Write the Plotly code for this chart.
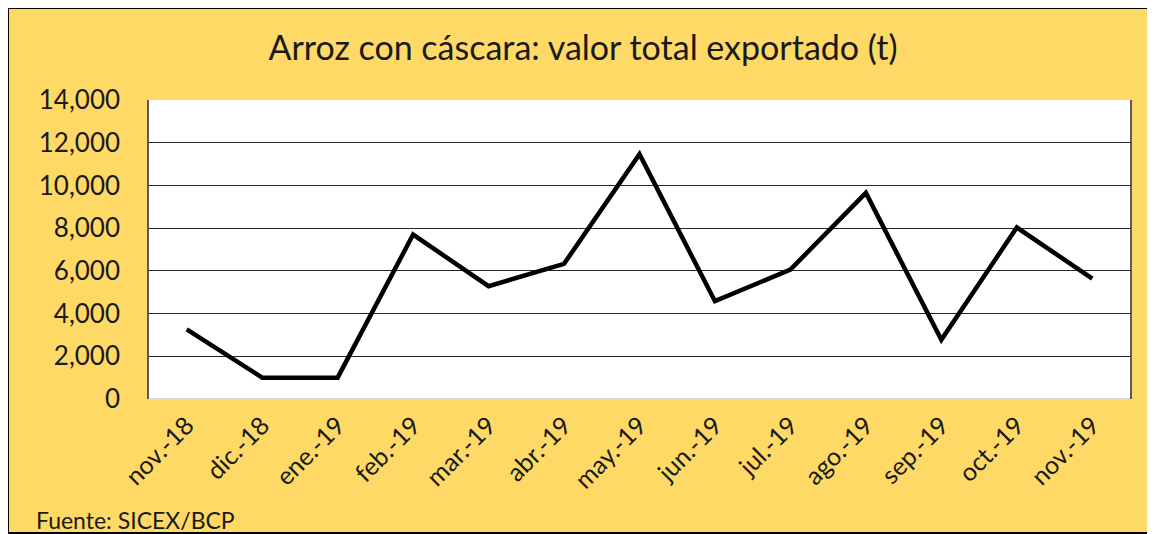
import plotly.graph_objects as go

months = ["nov.-18", "dic.-18", "ene.-19", "feb.-19", "mar.-19", "abr.-19", "may.-19",
          "jun.-19", "jul.-19", "ago.-19", "sep.-19", "oct.-19", "nov.-19"]
values = [3260, 1000, 1000, 7700, 5280, 6330, 11460, 4580, 6060, 9650, 2770, 8030, 5640]
y_ticks = [0, 2000, 4000, 6000, 8000, 10000, 12000, 14000]

title_text = "Arroz con cáscara: valor total exportado (t)"
source_text = "Fuente: SICEX/BCP"

FONT = "Lato"
YELLOW = "#FFD966"

fig = go.Figure()
fig.add_trace(go.Scatter(
    x=months, y=values, mode="lines",
    line=dict(color="#000000", width=4.5),
    hoverinfo="x+y", showlegend=False,
))

# figure is placed at an 8px page offset; coordinates below are in figure pixels
W, H = 1150, 526
L, R, T, B = 141, 1122, 92, 391
pw, ph = R - L, B - T

def px(xp):
    return (xp - L) / pw

def py(yp):
    return (B - yp) / ph

# outer black frame
fig.add_shape(type="rect", xref="paper", yref="paper",
              x0=px(0), x1=px(W + 20), y0=py(H - 1), y1=py(0),
              line=dict(color="#000000", width=2), layer="above")
# light bottom axis line
fig.add_shape(type="line", xref="paper", yref="paper", x0=0, x1=1, y0=0, y1=0,
              line=dict(color="#D9D9D9", width=2), layer="above")

fig.update_layout(
    width=W, height=H,
    margin=dict(l=L, r=W - R, t=T, b=H - B, autoexpand=False),
    paper_bgcolor=YELLOW,
    plot_bgcolor="#FFFFFF",
    font=dict(family=FONT, color="#000000"),
    title=dict(text=title_text, x=575 / W, xanchor="center", xref="container",
               y=1 - 40 / H, yanchor="middle", yref="container",
               font=dict(family=FONT, size=34, color="#1a1a1a")),
    annotations=[dict(text=source_text, xref="paper", yref="paper",
                      x=px(26), y=py(512), xanchor="left", yanchor="middle",
                      showarrow=False, font=dict(family=FONT, size=23, color="#1a1a1a"))],
)
fig.update_xaxes(
    type="category", tickangle=-45, tickfont=dict(family=FONT, size=25, color="#1a1a1a"),
    showgrid=False, showline=False, ticklabelstandoff=6,
    ticks="", range=[-0.5, len(months) - 0.5], fixedrange=True,
)
fig.update_yaxes(
    range=[0, 14000], tickvals=y_ticks, tickformat=",",
    tickfont=dict(family=FONT, size=26, color="#1a1a1a"),
    showgrid=True, gridcolor="#262626", gridwidth=1.3,
    showline=True, linecolor="#595959", linewidth=1.5, mirror=True,
    ticks="", ticklabelstandoff=22, zeroline=False, fixedrange=True,
)

fig.write_html("out.html")
